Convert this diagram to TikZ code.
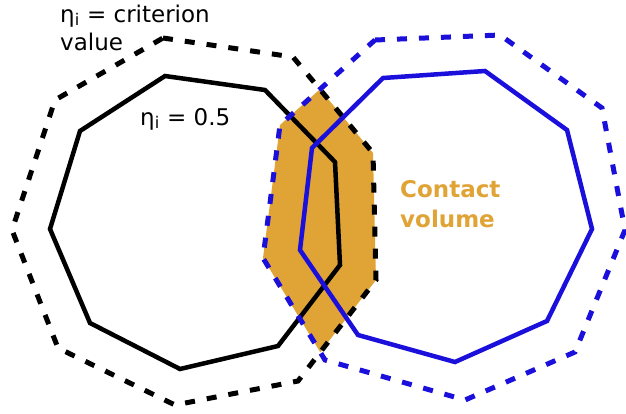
\documentclass[tikz,border=0pt]{standalone}
\usepackage{fontspec}
\setmainfont{DejaVu Sans}
\definecolor{contactorange}{HTML}{E0A336}
\definecolor{partblue}{HTML}{1A0FDB}
\begin{document}
\begin{tikzpicture}[
        x=1pt, y=-1pt,
        inner/.style={line width=4.5pt},
        outer/.style={line width=5pt, dash pattern=on 10pt off 12pt},
        label/.style={font=\fontsize{23}{28}\selectfont, align=left, inner sep=0pt, anchor=base west},
        contact/.style={font=\bfseries\fontsize{23}{30}\selectfont, text=contactorange, align=left, inner sep=0pt, anchor=base west},
    ]
    \useasboundingbox (0,0) rectangle (626,413);

    % overlap of the two criterion-value boundaries
    \begin{scope}
        \clip (375,40) -- (500,35) -- (602,108) -- (625,230) -- (575,352)
            -- (465,400) -- (325,360) -- (263,258) -- (280,125) -- cycle;
        \fill[contactorange] (163,38) -- (293,57) -- (373,153) -- (376,280) -- (298,381)
            -- (175,405) -- (58,348) -- (12,230) -- (55,100) -- cycle;
    \end{scope}

    % left particle
    \draw[outer] (163,38) -- (293,57) -- (373,153) -- (376,280) -- (298,381)
        -- (175,405) -- (58,348) -- (12,230) -- (55,100) -- cycle;
    \draw[inner] (165,76) -- (265,90) -- (335,162) -- (340,265) -- (278,346)
        -- (180,369) -- (90,323) -- (50,229) -- (80,131) -- cycle;

    % right particle
    \draw[outer, partblue] (375,40) -- (500,35) -- (602,108) -- (625,230) -- (575,352)
        -- (465,400) -- (325,360) -- (263,258) -- (280,125) -- cycle;
    \draw[inner, partblue] (383,78) -- (485,71) -- (567,130) -- (592,229) -- (547,321)
        -- (455,362) -- (358,335) -- (300,250) -- (312,148) -- cycle;

    \node[label](crit) at (60,50){η\textsubscript{i} = criterion\\value};
    \node[label](half) at (140,125){η\textsubscript{i} = 0.5};
    \node[contact](vol) at (400,227){Contact\\volume};

\end{tikzpicture}
\end{document}
